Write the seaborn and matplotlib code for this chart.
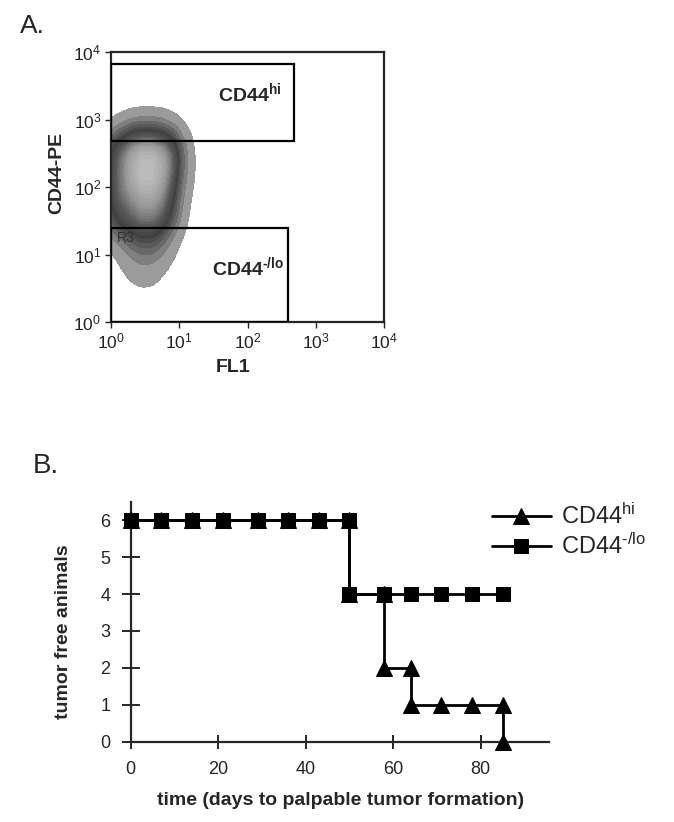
import matplotlib
matplotlib.use("Agg")
import matplotlib.pyplot as plt
import matplotlib.ticker as mticker
from matplotlib.colors import LinearSegmentedColormap
from matplotlib.patches import Rectangle
import numpy as np
import pandas as pd
import seaborn as sns

sns.set_style("ticks")
plt.rcParams["font.family"] = ["Liberation Sans", "DejaVu Sans"]
plt.rcParams["mathtext.default"] = "regular"

# ---- panel A: flow cytometry density (estimated relative density on a log10 grid)
log_fl1 = [0.0, 0.15, 0.3, 0.45, 0.6, 0.75, 0.9, 1.05, 1.2]
log_pe = [3.1, 2.9, 2.7, 2.5, 2.3, 2.1, 1.9, 1.7, 1.5, 1.3, 1.1, 0.9, 0.7, 0.5]
density = [
    [0.0, 0.0, 0.1, 0.1, 0.1, 0.1, 0.0, 0.0, 0.0],
    [0.3, 1.0, 2.0, 2.5, 2.5, 2.0, 1.0, 0.2, 0.0],
    [2.5, 4.5, 6.5, 7.5, 7.5, 6.5, 4.5, 1.2, 0.1],
    [5.0, 7.0, 9.0, 10.0, 10.0, 9.0, 7.0, 2.0, 0.2],
    [5.0, 7.0, 9.0, 10.0, 10.0, 9.0, 7.0, 2.0, 0.2],
    [5.0, 7.0, 9.0, 10.0, 10.0, 9.0, 6.0, 1.5, 0.2],
    [5.0, 7.0, 8.0, 9.0, 9.0, 8.0, 5.0, 1.0, 0.1],
    [4.0, 6.0, 7.0, 8.0, 8.0, 7.0, 4.0, 0.8, 0.0],
    [3.0, 5.0, 6.0, 7.0, 7.0, 6.0, 3.0, 0.5, 0.0],
    [1.2, 2.5, 3.8, 4.5, 4.5, 3.2, 1.2, 0.2, 0.0],
    [0.2, 0.8, 1.8, 2.5, 2.5, 1.6, 0.5, 0.0, 0.0],
    [0.0, 0.3, 0.9, 1.3, 1.2, 0.7, 0.2, 0.0, 0.0],
    [0.0, 0.1, 0.4, 0.6, 0.5, 0.2, 0.0, 0.0, 0.0],
    [0.0, 0.0, 0.1, 0.2, 0.2, 0.1, 0.0, 0.0, 0.0],
]
gate_hi = [1, 480, 480, 6600]    # x0, x1, y0, y1
gate_lo = [1, 395, 1, 25]

# ---- panel B: tumor free animals
days_hi = [0, 7, 14, 21, 29, 36, 43, 50, 50, 58, 58, 64, 64, 71, 78, 85, 85]
free_hi = [6, 6, 6, 6, 6, 6, 6, 6, 4, 4, 2, 2, 1, 1, 1, 1, 0]
days_lo = [0, 7, 14, 21, 29, 36, 43, 50, 50, 58, 64, 71, 78, 85]
free_lo = [6, 6, 6, 6, 6, 6, 6, 6, 4, 4, 4, 4, 4, 4]

W, H = 674, 822
fig = plt.figure(figsize=(W / 100, H / 100), dpi=100)


def box(l, t, r, b):
    return [l / W, 1 - b / H, (r - l) / W, (b - t) / H]


# ================= panel A
axA = fig.add_axes(box(111, 52, 384, 322))
gx, gy = np.meshgrid(log_fl1, log_pe)
df_a = pd.DataFrame({
    "fl1": 10 ** gx.ravel(),
    "pe": 10 ** gy.ravel(),
    "w": np.array(density).ravel(),
})
df_a = df_a[df_a["w"] > 0]
cmap = LinearSegmentedColormap.from_list(
    "facs", ["#a8a8a8", "#6a6a6a", "#404040", "#585858", "#969696", "#bcbcbc"])
sns.kdeplot(data=df_a, x="fl1", y="pe", weights="w", log_scale=True,
            fill=True, levels=24, thresh=0.01, cmap=cmap, bw_method=0.31,
            ax=axA)
axA.set_xlim(1, 1e4)
axA.set_ylim(1, 1e4)
for g in (gate_hi, gate_lo):
    axA.add_patch(Rectangle((g[0], g[2]), g[1] - g[0], g[3] - g[2],
                            fill=False, ec="black", lw=1.6, zorder=5))
for s in axA.spines.values():
    s.set_linewidth(1.6)
axA.xaxis.set_major_locator(mticker.LogLocator(base=10, numticks=10))
axA.yaxis.set_major_locator(mticker.LogLocator(base=10, numticks=10))
axA.xaxis.set_minor_locator(mticker.NullLocator())
axA.yaxis.set_minor_locator(mticker.NullLocator())
axA.tick_params(direction="out", length=4, width=1, labelsize=12.5, pad=3,
                colors="#222222")
axA.set_xlabel("FL1", fontsize=14, fontweight="bold", va="center")
axA.set_ylabel("CD44-PE", fontsize=14, fontweight="bold", va="center")
axA.xaxis.set_label_coords(0.447, -0.167)
axA.yaxis.set_label_coords(-0.198, 0.552)
axA.text(0.392, 0.848, "CD44$^{hi}$", transform=axA.transAxes,
         fontsize=14, fontweight="bold", va="center")
axA.text(0.37, 0.204, "CD44$^{\u2010/lo}$", transform=axA.transAxes,
         fontsize=14, fontweight="bold", va="center")
axA.text(0.022, 0.311, "R3", transform=axA.transAxes, fontsize=10,
         color="#333333", va="center")
fig.text(20 / W, 1 - 33 / H, "A.", fontsize=19, va="baseline")

# ================= panel B
axB = fig.add_axes(box(130.7, 501.7, 548.5, 741.7))
sns.lineplot(x=days_hi, y=free_hi, sort=False, estimator=None, color="black",
             lw=2, marker="^", markersize=11, mec="black", ax=axB,
             clip_on=False, label="CD44$^{hi}$", zorder=3)
sns.lineplot(x=days_lo, y=free_lo, sort=False, estimator=None, color="black",
             lw=2, marker="s", markersize=10, mec="black", ax=axB,
             clip_on=False, label="CD44$^{\u2010/lo}$", zorder=4)
axB.set_xlim(0, 95.5)
axB.set_ylim(0, 6.5)
axB.set_xticks([0, 20, 40, 60, 80])
axB.set_yticks([0, 1, 2, 3, 4, 5, 6])
sns.despine(ax=axB)
for s in ("left", "bottom"):
    axB.spines[s].set_linewidth(1.6)
axB.tick_params(axis="x", direction="inout", length=10, width=1.4,
                labelsize=13, pad=9)
axB.tick_params(axis="y", direction="inout", length=13, width=1.4,
                labelsize=13, pad=8)
axB.set_xlabel("time (days to palpable tumor formation)", fontsize=14,
               fontweight="bold", va="center")
axB.set_ylabel("tumor free animals", fontsize=14, fontweight="bold",
               va="center")
axB.xaxis.set_label_coords(0.503, -0.243)
axB.yaxis.set_label_coords(-0.162, 0.457)
axB.legend(loc="upper left", bbox_to_anchor=(491.7 / W, 1 - 504 / H),
           bbox_transform=fig.transFigure, frameon=False, fontsize=17,
           handlelength=2.5, handletextpad=0.45, borderpad=0,
           borderaxespad=0, labelspacing=0.2)
fig.text(33 / W, 1 - 473 / H, "B.", fontsize=20, va="baseline")

fig.savefig("out.png", dpi=100)
